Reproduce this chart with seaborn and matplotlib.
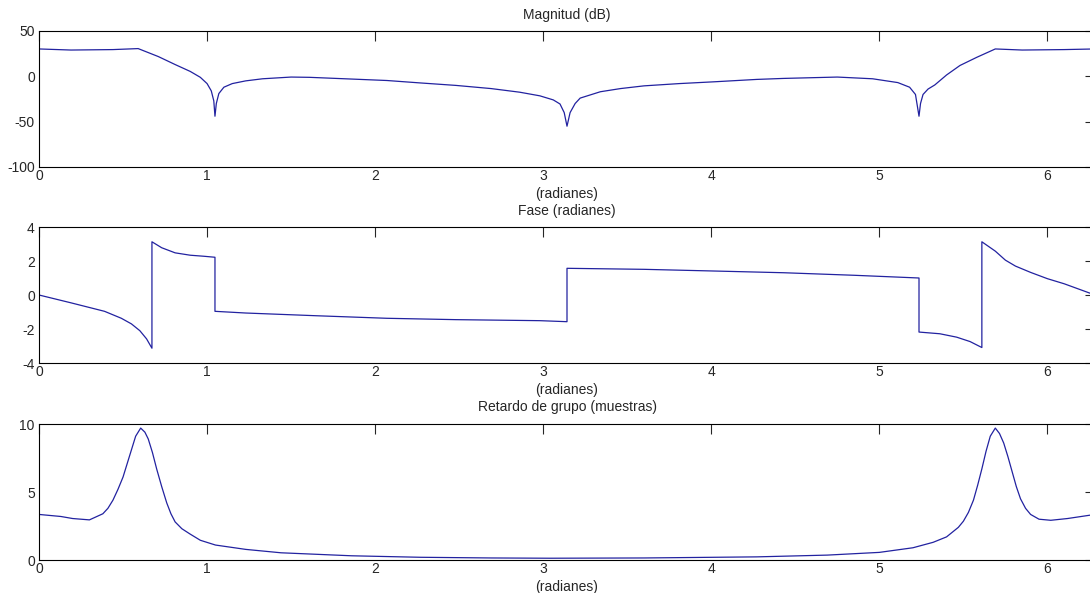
import matplotlib
matplotlib.use("Agg")
import matplotlib.pyplot as plt
import seaborn as sns
import numpy as np

# valores
w_mag = [0.0, 0.19, 0.44, 0.59, 0.71, 0.81, 0.90, 0.96, 1.00, 1.025, 1.04, 1.047, 1.055, 1.07, 1.10, 1.15,
         1.23, 1.33, 1.50, 1.61, 1.86, 2.07, 2.27, 2.48, 2.69, 2.86, 2.98, 3.06, 3.10, 3.125, 3.1416, 3.16,
         3.19, 3.22, 3.34, 3.46, 3.60, 3.81, 4.02, 4.27, 4.43, 4.75, 4.96, 5.11, 5.18, 5.215, 5.236, 5.245,
         5.26, 5.29, 5.33, 5.40, 5.48, 5.58, 5.69, 5.85, 6.10, 6.283]
mag_db = [30.2, 29.0, 29.5, 30.6, 21.8, 13.0, 5.4, -1.1, -8.0, -16.0, -27.0, -44.0, -30.0, -19.0, -12.0, -8.0,
          -5.0, -2.7, -0.8, -1.1, -3.0, -4.6, -7.3, -10.0, -13.5, -17.5, -21.5, -26.0, -30.5, -40.0, -55.0, -40.0,
          -30.0, -24.0, -17.0, -13.5, -10.5, -8.0, -6.0, -3.4, -2.3, -0.8, -2.7, -6.9, -12.0, -20.0, -44.0, -30.0,
          -20.0, -14.0, -9.5, 1.5, 12.0, 21.0, 30.2, 29.0, 29.5, 30.2]

w_fase = [0.0, 0.19, 0.39, 0.49, 0.55, 0.60, 0.64, 0.672, 0.672, 0.73, 0.81, 0.90, 0.98, 1.047, 1.047, 1.23,
          1.65, 2.07, 2.48, 2.98, 3.1416, 3.1416, 3.60, 4.02, 4.43, 4.85, 5.236, 5.236, 5.36, 5.46, 5.54, 5.61,
          5.61, 5.69, 5.75, 5.81, 5.90, 6.00, 6.10, 6.283]
fase = [0.0, -0.46, -0.96, -1.37, -1.70, -2.10, -2.58, -3.13, 3.13, 2.78, 2.48, 2.34, 2.28, 2.22, -0.96, -1.06,
        -1.22, -1.37, -1.45, -1.51, -1.57, 1.57, 1.51, 1.41, 1.31, 1.16, 1.0, -2.18, -2.28, -2.48, -2.74, -3.09,
        3.13, 2.58, 2.05, 1.70, 1.33, 0.96, 0.66, 0.0]

w_gd = [0.0, 0.13, 0.20, 0.30, 0.38, 0.41, 0.44, 0.47, 0.50, 0.525, 0.55, 0.575, 0.605, 0.63, 0.65, 0.675,
        0.70, 0.73, 0.76, 0.785, 0.81, 0.85, 0.90, 0.96, 1.05, 1.23, 1.44, 1.86, 2.27, 2.69, 3.04, 3.60,
        4.27, 4.69, 5.00, 5.20, 5.32, 5.40, 5.47, 5.50, 5.53, 5.56, 5.585, 5.61, 5.635, 5.66, 5.69, 5.715,
        5.74, 5.765, 5.79, 5.815, 5.84, 5.87, 5.90, 5.95, 6.02, 6.12, 6.283]
retardo = [3.35, 3.2, 3.05, 2.95, 3.4, 3.8, 4.4, 5.2, 6.1, 7.1, 8.1, 9.1, 9.7, 9.4, 8.9, 7.9,
           6.7, 5.4, 4.2, 3.4, 2.8, 2.3, 1.9, 1.45, 1.1, 0.78, 0.53, 0.31, 0.2, 0.15, 0.13, 0.15,
           0.23, 0.36, 0.56, 0.9, 1.3, 1.7, 2.4, 2.85, 3.5, 4.4, 5.5, 6.7, 8.0, 9.1, 9.7, 9.3,
           8.6, 7.6, 6.5, 5.4, 4.5, 3.8, 3.35, 3.0, 2.92, 3.05, 3.35]

sns.set_style("white")
plt.rcParams['font.family'] = ['Liberation Sans', 'DejaVu Sans']
plt.rcParams['axes.unicode_minus'] = False

fig = plt.figure(figsize=(10.9, 5.93), dpi=100)
color = "#2222a0"

paneles = [
    (w_mag, mag_db, "Magnitud (dB)", (-100, 50), [-100, -50, 0, 50], 31),
    (w_fase, fase, "Fase (radianes)", (-4, 4), [-4, -2, 0, 2, 4], 227),
    (w_gd, retardo, "Retardo de grupo (muestras)", (0, 10), [0, 5, 10], 424),
]
alto = 136

for xs, ys, titulo, ylim, yticks, top in paneles:
    ax = fig.add_axes([39 / 1090, 1 - (top + alto) / 593, 1056 / 1090, alto / 593])
    sns.lineplot(x=xs, y=ys, ax=ax, color=color, lw=0.9, estimator=None, sort=False)
    ax.set_xlim(0, 2 * np.pi)
    ax.set_ylim(*ylim)
    ax.set_xticks(range(7))
    ax.set_yticks(yticks)
    ax.set_title(titulo, fontsize=10, pad=9)
    ax.set_xlabel("(radianes)", fontsize=10, labelpad=3)
    ax.tick_params(direction="in", length=7, width=0.8, top=True, right=True,
                   labelsize=10)
    ax.tick_params(axis="x", pad=1.5)
    ax.tick_params(axis="y", pad=3)
    for s in ax.spines.values():
        s.set_visible(True)
        s.set_color("black")
        s.set_linewidth(0.8)

fig.savefig("out.png", dpi=100)
